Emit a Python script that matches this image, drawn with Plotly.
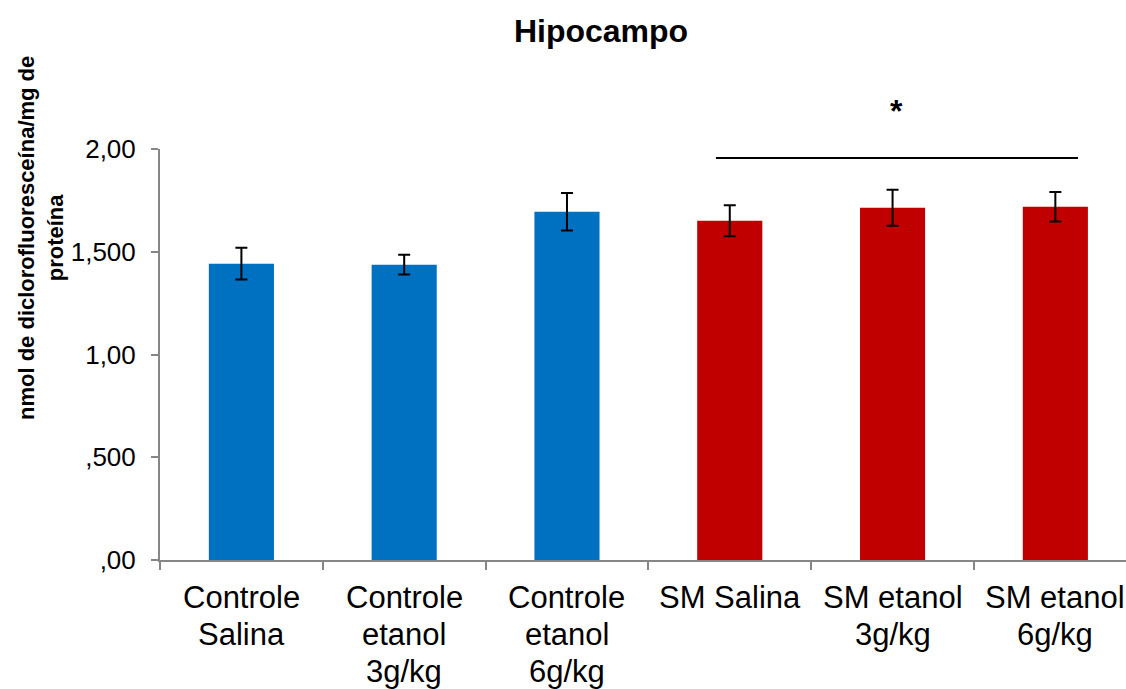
import plotly.graph_objects as go

categories = ["Controle<br>Salina", "Controle<br>etanol<br>3g/kg", "Controle<br>etanol<br>6g/kg",
              "SM Salina", "SM etanol<br>3g/kg", "SM etanol<br>6g/kg"]
values = [1.442, 1.437, 1.695, 1.651, 1.714, 1.719]
errors = [0.077, 0.048, 0.091, 0.075, 0.088, 0.072]
colors = ["#0070C0", "#0070C0", "#0070C0", "#C00000", "#C00000", "#C00000"]
ytick_vals = [0, 0.5, 1.0, 1.5, 2.0]
ytick_text = [",00", ",500", "1,00", "1,500", "2,00"]

sig_line_x = [2.915, 5.139]
sig_line_y = 1.956

W, H = 1126, 689
L, R, T, B = 160, 0, 149, 129
PH = H - T - B

fig = go.Figure()
fig.add_trace(go.Bar(
    x=list(range(len(categories))), y=values,
    marker=dict(color=colors, line=dict(width=0)),
    width=0.4,
    error_y=dict(type="data", array=errors, visible=True, color="black", thickness=2, width=6),
))

# category labels (one annotation per text line, Excel-like tight line spacing)
first_line_px = 597
line_step_px = 37
for i, lab in enumerate(categories):
    for j, part in enumerate(lab.split("<br>")):
        fig.add_annotation(x=i, xref="x", y=(H - B - (first_line_px + j * line_step_px)) / PH, yref="paper",
                           text=part, showarrow=False, xanchor="center", yanchor="middle",
                           font=dict(size=31, color="black"))

fig.add_shape(type="line", xref="x", yref="y",
              x0=sig_line_x[0], x1=sig_line_x[1], y0=sig_line_y, y1=sig_line_y,
              line=dict(color="black", width=2))
fig.add_annotation(x=(sig_line_x[0] + sig_line_x[1]) / 2, y=(H - B - 111) / PH, xref="x", yref="paper",
                   text="<b>*</b>", showarrow=False, font=dict(size=32, color="black"),
                   yanchor="middle")

fig.add_annotation(text="<b>nmol de diclorofluoresceína/mg de<br>proteína</b>",
                   textangle=-90, xref="paper", yref="paper",
                   x=(41 - L) / (W - L - R), y=(H - B - 238) / PH,
                   xanchor="center", yanchor="middle", showarrow=False,
                   font=dict(size=22, color="black"))

fig.update_layout(
    width=W, height=H,
    margin=dict(l=L, r=R, t=T, b=B, pad=0, autoexpand=False),
    paper_bgcolor="white", plot_bgcolor="white",
    font=dict(family="Liberation Sans, Arial, sans-serif", color="black"),
    showlegend=False,
    title=dict(text="<b>Hipocampo</b>", x=601 / W, xanchor="center", y=1 - 31 / H, yanchor="middle",
               font=dict(size=32, color="black")),
)
fig.update_xaxes(
    range=[-0.5, 5.434], showline=True, linecolor="#868686", linewidth=2,
    ticks="outside", tickvals=[k - 0.5 for k in range(len(categories) + 1)], showticklabels=False,
    ticklen=8, tickcolor="#868686", tickwidth=2,
    showgrid=False, automargin=False, zeroline=False,
)
fig.update_yaxes(
    range=[0, 2.0], showline=True, linecolor="#868686", linewidth=2,
    ticks="outside", ticklen=7, tickcolor="#868686", tickwidth=2,
    tickvals=ytick_vals, ticktext=ytick_text, tickfont=dict(size=26, color="black"),
    showgrid=False, zeroline=False, ticklabelstandoff=10, automargin=False,
)

fig.write_html("out.html")
